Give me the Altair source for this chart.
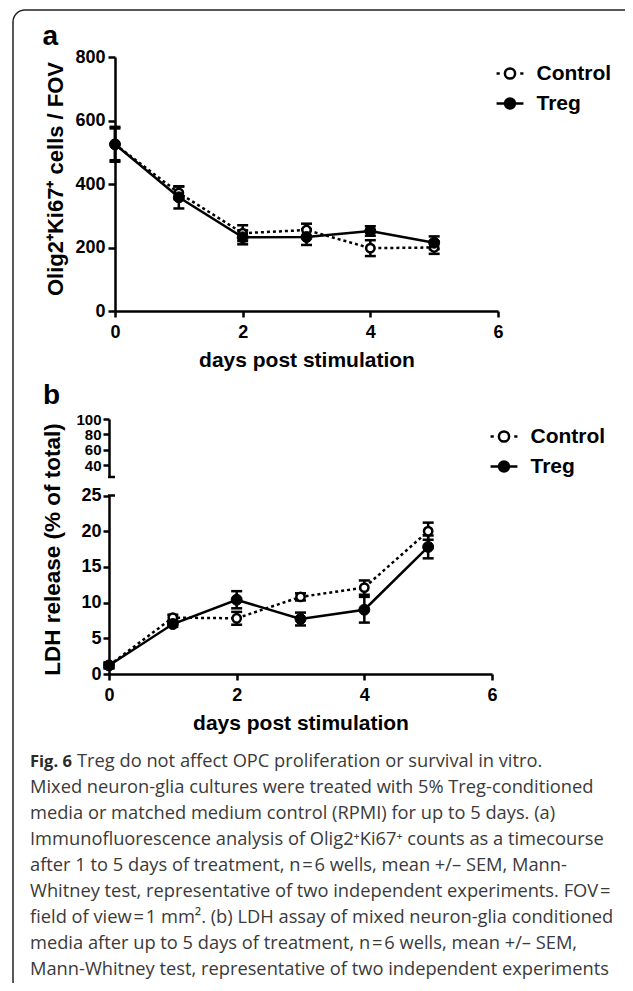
import altair as alt
import pandas as pd

# ---------------- data ----------------
days = [0, 1, 2, 3, 4, 5]
series_names = ["Control", "Treg"]

a_control_mean = [525, 372, 245, 255, 198, 200]
a_control_sem = [55, 20, 25, 20, 25, 20]
a_treg_mean = [525, 358, 232, 233, 252, 215]
a_treg_sem = [50, 35, 22, 25, 15, 20]

b_control_mean = [1.2, 7.9, 7.8, 10.8, 12.1, 20.0]
b_control_sem = [0.4, 0.4, 0.9, 0.5, 1.0, 1.2]
b_treg_mean = [1.2, 7.0, 10.4, 7.7, 9.0, 17.8]
b_treg_sem = [0.4, 0.4, 1.2, 0.9, 1.8, 1.6]

x_ticks = [0, 2, 4, 6]
a_y_ticks = [0, 200, 400, 600, 800]
b_y_ticks_low = [0, 5, 10, 15, 20, 25]
b_y_ticks_high = [40, 60, 80, 100]
b_break_value = [25]

x_title = "days post stimulation"
a_y_title = "Olig2\u207aKi67\u207a cells / FOV"
b_y_title = "LDH release (% of total)"
panel_letters = ["a", "b"]

caption_head = "Fig. 6"
caption_first = "Treg do not affect OPC proliferation or survival in vitro."
caption_lines = [
    "Mixed neuron-glia cultures were treated with 5% Treg-conditioned",
    "media or matched medium control (RPMI) for up to 5 days. (a)",
    "Immunofluorescence analysis of Olig2\u207aKi67\u207a counts as a timecourse",
    "after 1 to 5 days of treatment, n\u200a=\u200a6 wells, mean +/\u2013 SEM, Mann-",
    "Whitney test, representative of two independent experiments. FOV\u200a=",
    "field of view\u200a=\u200a1 mm\u00b2. (b) LDH assay of mixed neuron-glia conditioned",
    "media after up to 5 days of treatment, n\u200a=\u200a6 wells, mean +/\u2013 SEM,",
    "Mann-Whitney test, representative of two independent experiments",
]


def series_frame(means, sems, name):
    return pd.DataFrame({
        "day": days,
        "mean": means,
        "lo": [m - s for m, s in zip(means, sems)],
        "hi": [m + s for m, s in zip(means, sems)],
        "series": name,
    })


a_c = series_frame(a_control_mean, a_control_sem, "Control")
a_t = series_frame(a_treg_mean, a_treg_sem, "Treg")
b_c = series_frame(b_control_mean, b_control_sem, "Control")
b_t = series_frame(b_treg_mean, b_treg_sem, "Treg")

# ---------------- layout (pixels inside the chart) ----------------
W, H = 617, 975
CF = "Liberation Sans"
CAPF = "Open Sans"
CAP_SIZE = 18.3

A_XR = [107, 490]
A_YR = [303, 49]
B_XR = [101, 484]
B_YR_LOW = [666, 487.5]
B_YR_HIGH = [469, 411]
CAP_YR = [753.7, 962]


def xsc(rng):
    return alt.Scale(domain=[0, 6], range=rng, nice=False, zero=False)


def ysc(dom, rng):
    return alt.Scale(domain=dom, range=rng, nice=False, zero=False)


def panel(dc, dt, xr, ydom, yr, x_axis, y_axis):
    both = pd.concat([dc, dt], ignore_index=True)

    def X(axis=None):
        return alt.X("day:Q", scale=xsc(xr), axis=axis)

    def Y(field, axis=None):
        return alt.Y(field + ":Q", scale=ysc(ydom, yr), axis=axis)

    line_c = alt.Chart(dc).mark_line(color="black", strokeWidth=2.5, strokeDash=[3, 3]).encode(
        x=X(x_axis), y=Y("mean", y_axis))
    line_t = alt.Chart(dt).mark_line(color="black", strokeWidth=2.5).encode(
        x=X(), y=Y("mean"))
    rules = alt.Chart(both).mark_rule(color="black", strokeWidth=2.5).encode(
        x=X(), y=Y("lo"), y2=alt.Y2("hi:Q"), detail="series:N")
    cap_lo = alt.Chart(both).mark_tick(color="black", orient="horizontal", size=11, thickness=2.5, opacity=1).encode(
        x=X(), y=Y("lo"))
    cap_hi = alt.Chart(both).mark_tick(color="black", orient="horizontal", size=11, thickness=2.5, opacity=1).encode(
        x=X(), y=Y("hi"))
    pts_c = alt.Chart(dc).mark_point(shape="circle", filled=True, fill="white", stroke="black",
                                     strokeWidth=2.5, size=70, opacity=1).encode(x=X(), y=Y("mean"))
    pts_t = alt.Chart(dt).mark_point(shape="circle", filled=True, fill="black", stroke="black",
                                     strokeWidth=1, size=120, opacity=1).encode(x=X(), y=Y("mean"))
    return [line_c, line_t, rules, cap_lo, cap_hi, pts_c, pts_t]


ctrl_path = "M-1.9,0H-1.45M1.45,0H1.9M0.72,0A0.72,0.72,0,1,1,-0.72,0A0.72,0.72,0,1,1,0.72,0Z"
treg_path = "M-1.9,0H1.9M0.7,0A0.7,0.7,0,1,1,-0.7,0A0.7,0.7,0,1,1,0.7,0Z"


def legend_layer(lx, ly):
    leg = alt.Legend(title=None, orient="none", legendX=lx, legendY=ly,
                     symbolSize=200, symbolStrokeWidth=2.5, symbolOpacity=1,
                     labelFont=CF, labelFontSize=21, labelFontWeight="bold", labelColor="black",
                     labelOffset=16, rowPadding=8)
    return alt.Chart(pd.DataFrame({"series": series_names})).transform_filter(
        "datum.series == 'none'").mark_point(filled=True, stroke="black", strokeWidth=2.5, opacity=1).encode(
        shape=alt.Shape("series:N", scale=alt.Scale(domain=series_names, range=[ctrl_path, treg_path]), legend=leg),
        fill=alt.Fill("series:N", scale=alt.Scale(domain=series_names, range=["white", "black"]), legend=leg),
    )


# axes
a_x_axis = alt.Axis(values=x_ticks, orient="bottom", offset=A_YR[0] - H, title=x_title,
                    titleFontSize=21, tickSize=6, labelPadding=6, titlePadding=8)
a_y_axis = alt.Axis(values=a_y_ticks, orient="left", offset=-A_XR[0], title=a_y_title,
                    titleFontSize=22, tickSize=7, labelPadding=3, titleX=-48, titleY=170.5)
b_x_axis = alt.Axis(values=x_ticks, orient="bottom", offset=B_YR_LOW[0] - H, title=x_title,
                    titleFontSize=21, tickSize=6, labelPadding=6, titlePadding=8)
b_y_axis = alt.Axis(values=b_y_ticks_low, orient="left", offset=-B_XR[0], title=b_y_title,
                    titleFontSize=22.5, tickSize=6, labelPadding=2, titleX=-45, titleY=541)
b_y_axis_high = alt.Axis(values=b_y_ticks_high, orient="left", offset=-B_XR[0], title=None,
                         tickSize=6, labelPadding=2, labelFontSize=15)

layers_a = panel(a_c, a_t, A_XR, [0, 800], A_YR, a_x_axis, a_y_axis)
layers_b = panel(b_c, b_t, B_XR, [0, 25], B_YR_LOW, b_x_axis, b_y_axis)

b_high = alt.Chart(pd.DataFrame({"v": b_y_ticks_high})).mark_tick(opacity=0).encode(
    y=alt.Y("v:Q", scale=ysc([25, 100], B_YR_HIGH), axis=b_y_axis_high))

# small stubs marking the axis break (end of each segment at 25)
brk = pd.DataFrame({"v": b_break_value})
stub_high = alt.Chart(brk).mark_rule(color="black", strokeWidth=2.5).encode(
    y=alt.Y("v:Q", scale=ysc([25, 100], B_YR_HIGH), axis=None),
    x=alt.value(B_XR[0] - 1), x2=alt.value(B_XR[0] + 6))
stub_low = alt.Chart(brk).mark_rule(color="black", strokeWidth=2.5).encode(
    y=alt.Y("v:Q", scale=ysc([0, 25], B_YR_LOW), axis=None),
    x=alt.value(B_XR[0] - 1), x2=alt.value(B_XR[0] + 6))

# decorations
border = alt.Chart(pd.DataFrame({"k": [0]})).mark_rect(
    filled=False, stroke="#222222", strokeWidth=1.5, cornerRadius=12).encode(
    x=alt.value(5), x2=alt.value(628), y=alt.value(2), y2=alt.value(985))

lab_a = alt.Chart(pd.DataFrame({"t": [panel_letters[0]]})).mark_text(
    font=CF, fontSize=28, fontWeight="bold", align="left", baseline="alphabetic", color="black").encode(
    x=alt.value(34.5), y=alt.value(36.5), text="t:N")
lab_b = alt.Chart(pd.DataFrame({"t": [panel_letters[1]]})).mark_text(
    font=CF, fontSize=28, fontWeight="bold", align="left", baseline="alphabetic", color="black").encode(
    x=alt.value(35), y=alt.value(396), text="t:N")


def cap_y():
    return alt.Y("line:Q", scale=ysc([0, 8], CAP_YR), axis=None)


cap_head_l = alt.Chart(pd.DataFrame({"line": [0], "text": [caption_head]})).mark_text(
    font=CAPF, fontSize=16.5, fontWeight="bold", align="left", baseline="middle", color="#2b2b2b").encode(
    x=alt.value(22), y=cap_y(), text="text:N")
cap_first_l = alt.Chart(pd.DataFrame({"line": [0], "text": [caption_first]})).mark_text(
    font=CAPF, fontSize=CAP_SIZE, align="left", baseline="middle", color="#3a3a3a").encode(
    x=alt.value(69), y=cap_y(), text="text:N")
cap_rest_l = alt.Chart(pd.DataFrame({"line": list(range(1, 9)), "text": caption_lines})).mark_text(
    font=CAPF, fontSize=CAP_SIZE, align="left", baseline="middle", color="#3a3a3a").encode(
    x=alt.value(22), y=cap_y(), text="text:N")

all_layers = ([border, lab_a, lab_b, cap_head_l, cap_first_l, cap_rest_l]
              + layers_a + [legend_layer(491.5, 55)]
              + [b_high, stub_high, stub_low] + layers_b + [legend_layer(485.5, 418)])

chart = alt.layer(*all_layers).resolve_scale(
    x="independent", y="independent", shape="independent", fill="independent"
).resolve_legend(shape="independent", fill="independent").properties(
    width=W, height=H, padding=0, autosize=alt.AutoSizeParams(type="none")
).configure_view(stroke=None).configure_axis(
    domainColor="black", domainWidth=2.5, tickColor="black", tickWidth=2.5,
    labelColor="black", labelFont=CF, labelFontWeight="bold", labelFontSize=18,
    titleFont=CF, titleFontWeight="bold", titleColor="black", grid=False,
    labelFlush=False, labelOverlap=False,
)

chart.save("out.html", embed_options={"renderer": "svg", "actions": False})
